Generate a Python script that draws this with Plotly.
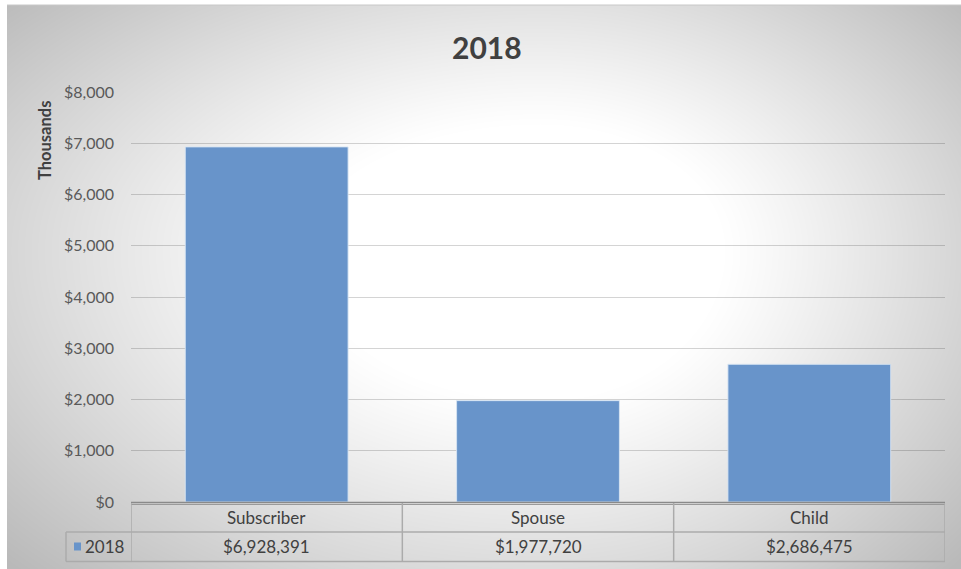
import zlib, struct, base64
import numpy as np
import plotly.graph_objects as go

# ---- data ----
categories = ["Subscriber", "Spouse", "Child"]
series_name = "2018"
values_dollars = [6928391, 1977720, 2686475]
y_tick_values = [0, 1000, 2000, 3000, 4000, 5000, 6000, 7000, 8000]
y_tick_labels = ["$0", "$1,000", "$2,000", "$3,000", "$4,000", "$5,000", "$6,000", "$7,000", "$8,000"]
y_axis_title = "Thousands"
values_thousands = [v / 1000 for v in values_dollars]

# ---- geometry helpers (pixels -> paper) ----
W, H = 961, 569
L, R, T, B = 131, 16, 92, 67
PW, PH = W - L - R, H - T - B
def px(x):
    return (x - L) / PW
def py(y):
    return (H - B - y) / PH

BAR = "rgb(104,148,202)"
LINE = "#ababab"
TXT = "#404040"
FONT = "Lato"

# ---- radial gradient background ----
fx0, fy0, fx1, fy1 = 7, 5, 961, 569
fw, fh = fx1 - fx0, fy1 - fy0
xs = np.arange(fw) + fx0
ys = np.arange(fh) + fy0
X, Y = np.meshgrid(xs, ys)
cx, cy = 540, 250
dx = X - cx
dy = Y - cy
sx = np.where(dx < 0, 560.0, 440.0)
sy = np.where(dy < 0, 300.0, 360.0)
t = np.sqrt((dx / sx) ** 2 + (dy / sy) ** 2)
v = 255 - 68 * np.clip((t - 0.42) / 0.85, 0, None) ** 1.1
gray = np.clip(v, 185, 255).astype(np.uint8)

def make_png(g):
    h, w = g.shape
    raw = b"".join(b"\x00" + g[i].tobytes() for i in range(h))
    def chunk(tag, data):
        c = struct.pack(">I", len(data)) + tag + data
        return c + struct.pack(">I", zlib.crc32(tag + data) & 0xffffffff)
    png = (b"\x89PNG\r\n\x1a\n"
           + chunk(b"IHDR", struct.pack(">IIBBBBB", w, h, 8, 0, 0, 0, 0))
           + chunk(b"IDAT", zlib.compress(raw, 9))
           + chunk(b"IEND", b""))
    return "data:image/png;base64," + base64.b64encode(png).decode()

bg_src = make_png(gray)

fig = go.Figure()
fig.add_trace(go.Bar(
    x=categories, y=values_thousands, name=series_name,
    marker=dict(color=BAR, line=dict(color="rgba(215,228,243,0.9)", width=1)),
    hoverinfo="skip",
))

shapes = []
# baseline (double)
shapes.append(dict(type="line", xref="paper", yref="paper", x0=0, x1=1,
                   y0=py(502.5), y1=py(502.5), line=dict(color="#8a8a8a", width=1.5)))
shapes.append(dict(type="line", xref="paper", yref="paper", x0=0, x1=1,
                   y0=py(504.5), y1=py(504.5), line=dict(color="#9a9a9a", width=1.2)))
# table horizontal lines
shapes.append(dict(type="line", xref="paper", yref="paper", x0=px(66), x1=1,
                   y0=py(532), y1=py(532), line=dict(color=LINE, width=1.5)))
shapes.append(dict(type="line", xref="paper", yref="paper", x0=px(66), x1=1,
                   y0=py(561.5), y1=py(561.5), line=dict(color=LINE, width=1.5)))
# table vertical lines
n = len(categories)
for k in range(n + 1):
    shapes.append(dict(type="line", xref="x", yref="paper", x0=k - 0.5, x1=k - 0.5,
                       y0=py(503), y1=py(561.5), line=dict(color=LINE, width=1.5)))
shapes.append(dict(type="line", xref="paper", yref="paper", x0=px(66), x1=px(66),
                   y0=py(532), y1=py(561.5), line=dict(color=LINE, width=1.5)))
# legend key
shapes.append(dict(type="rect", xref="paper", yref="paper", x0=px(74), x1=px(81),
                   y0=py(550.5), y1=py(542.5), fillcolor=BAR, line=dict(width=0)))
# top frame edge
shapes.append(dict(type="line", xref="paper", yref="paper", x0=px(7), x1=px(961),
                   y0=py(5), y1=py(5), line=dict(color="#c8c8c8", width=1)))

def ann(x, xref, y, text, size, **kw):
    d = dict(x=x, xref=xref, y=y, yref="paper", text=text, showarrow=False,
             xanchor=kw.pop("xanchor", "center"), yanchor="middle",
             font=dict(family=FONT, size=size, color=TXT))
    d.update(kw)
    return d

annotations = []
for i, (c, val) in enumerate(zip(categories, values_dollars)):
    annotations.append(ann(i, "x", py(517.5), c, 17))
    annotations.append(ann(i, "x", py(546.5), "${:,}".format(val), 17))
annotations.append(ann(px(83), "paper", py(546.5), series_name, 17, xanchor="left"))
annotations.append(ann(px(487), "paper", py(47), "<b>" + series_name + "</b>", 30))
annotations.append(ann(px(45), "paper", py(141), "<b>" + y_axis_title + "</b>", 16.5, textangle=-90))

fig.update_layout(
    width=W, height=H,
    margin=dict(l=L, r=R, t=T, b=B, pad=0),
    paper_bgcolor="white",
    plot_bgcolor="rgba(0,0,0,0)",
    showlegend=False,
    bargap=0.4,
    font=dict(family=FONT, color="#595959", size=16),
    xaxis=dict(range=[-0.5, n - 0.5], showticklabels=False, showgrid=False,
               zeroline=False, showline=False, fixedrange=True),
    yaxis=dict(range=[0, 8000], tickmode="array", tickvals=y_tick_values, ticktext=y_tick_labels,
               showgrid=True, gridcolor="rgba(0,0,0,0.17)", gridwidth=1,
               zeroline=False, showline=False, ticks="", ticklabelstandoff=16,
               tickfont=dict(family=FONT, size=16, color="#595959"), fixedrange=True),
    shapes=shapes,
    annotations=annotations,
    images=[dict(source=bg_src, xref="paper", yref="paper", x=px(fx0), y=py(fy0),
                 sizex=fw / PW, sizey=fh / PH, xanchor="left", yanchor="top",
                 sizing="stretch", layer="below")],
)

fig.write_html("out.html", config={"displayModeBar": False},
               post_script="document.body.style.margin='0';document.body.style.padding='0';")
